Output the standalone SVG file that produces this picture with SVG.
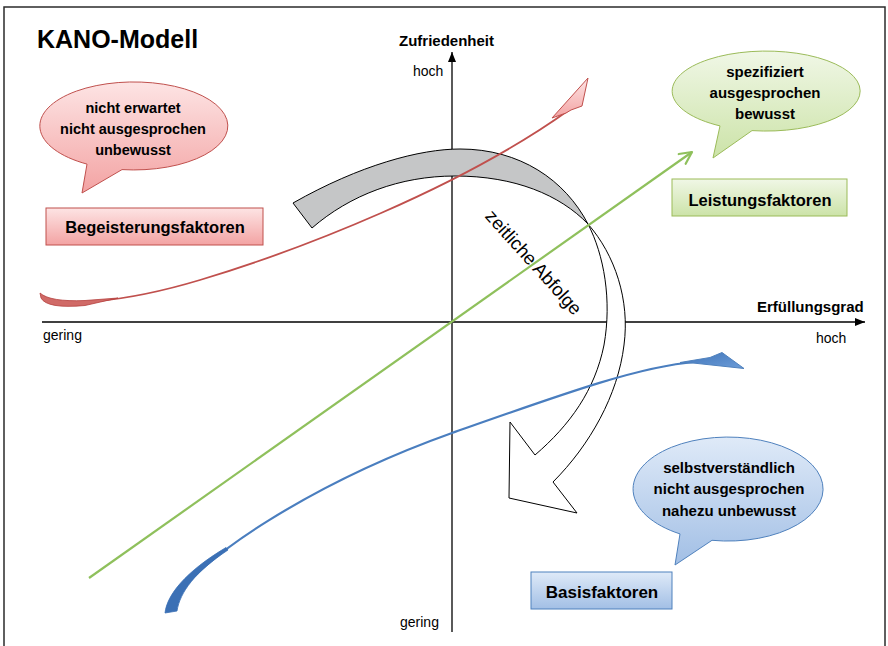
<svg xmlns="http://www.w3.org/2000/svg" width="888" height="646" viewBox="0 0 888 646">
<defs>
<style>
.lbl{font-family:"Liberation Sans",Arial,sans-serif;fill:#000}
.b{font-weight:bold}
.bub{font-family:"Liberation Sans",Arial,sans-serif;font-weight:bold;text-anchor:middle;fill:#000}
.ax{stroke:#000;stroke-width:1.3;fill:none}
</style>
<linearGradient id="gR" x1="0" y1="0" x2="0" y2="1"><stop offset="0" stop-color="#fde4e4"/><stop offset="1" stop-color="#f3a3a3"/></linearGradient>
<linearGradient id="gG" x1="0" y1="0" x2="0" y2="1"><stop offset="0" stop-color="#f0f7e6"/><stop offset="1" stop-color="#cce3a8"/></linearGradient>
<linearGradient id="gB" x1="0" y1="0" x2="0" y2="1"><stop offset="0" stop-color="#dfeaf8"/><stop offset="1" stop-color="#a2bfe5"/></linearGradient>
<linearGradient id="gBA" x1="0" y1="0" x2="1" y2="1"><stop offset="0" stop-color="#3f74b8"/><stop offset="1" stop-color="#6c9cd8"/></linearGradient>
<marker id="ax" markerWidth="10" markerHeight="8" refX="10" refY="4" orient="auto" markerUnits="userSpaceOnUse"><path d="M0,0 L10,4 L0,8 Z" fill="#000"/></marker>
<marker id="ga" markerWidth="16" markerHeight="16" refX="14" refY="8" orient="auto" markerUnits="userSpaceOnUse"><path d="M2,2 L14,8 L2,14" fill="none" stroke="#8fc05c" stroke-width="2.2" stroke-linecap="round" stroke-linejoin="round"/></marker>
</defs>
<rect x="0" y="0" width="888" height="646" fill="#fff"/>
<rect x="4" y="7" width="881" height="680" fill="none" stroke="#2b2b2b" stroke-width="1.5"/>
<text class="lbl b" x="37" y="48" font-size="25">KANO-Modell</text>
<g id="axes">
<line class="ax" x1="452" y1="632" x2="452" y2="52" marker-end="url(#ax)"/>
<line class="ax" x1="42" y1="322" x2="865" y2="322" marker-end="url(#ax)"/>
<text class="lbl b" x="399" y="46" font-size="15">Zufriedenheit</text>
<text class="lbl" x="413" y="76" font-size="14">hoch</text>
<text class="lbl" x="400" y="627" font-size="14">gering</text>
<text class="lbl b" x="757" y="312" font-size="15">Erfüllungsgrad</text>
<text class="lbl" x="816" y="343" font-size="14">hoch</text>
<text class="lbl" x="43" y="340" font-size="14">gering</text>
</g>
<g id="zeitliche-abfolge">
<path d="M 293 203 C 360 165 420 149 460 149 C 520 149 565 180 588 224 C 560 195 515 176 455 176 C 400 176 350 195 312 228 Z" fill="#c5c6c7" stroke="#000" stroke-width="1"/>
<path d="M 588 224 C 615 255 630 300 624 345 C 618 395 590 445 553 482 L 577 513 L 509 498 L 510 422 L 535 455 C 570 425 595 390 604 345 C 612 300 604 255 588 224 Z" fill="#fff" stroke="#000" stroke-width="1"/>
<text class="lbl" x="529" y="266.5" font-size="18.5" text-anchor="middle" transform="rotate(48 529 266.5)">zeitliche Abfolge</text>
</g>
<g id="connectors">
<path d="M 89 578 L 692 152" fill="none" stroke="#8fc05c" stroke-width="2.2" marker-end="url(#ga)"/>
<path d="M 44 297 C 55 307 120 304 200 280 C 300 250 460 188 569 110" fill="none" stroke="#c0504d" stroke-width="1.8"/>
<path d="M 40 293 Q 50 302 85 300.5 L 118 298 L 85 305.5 Q 47 309 41 298 Z" fill="#d06a67" stroke="#b5403d" stroke-width="0.8"/>
<polygon points="588,78 582,106 571,110 566,113 552,118" fill="url(#gR)" stroke="#c0504d" stroke-width="1"/>
<path d="M 171 608 C 190 560 320 480 452 433 C 560 395 640 366 695 362" fill="none" stroke="#4a7ebf" stroke-width="2.2"/>
<path d="M 165 613 C 167 595 185 572 226 547.5 L 228 550 C 195 572 180 592 177 611 Z" fill="#3b70b5" stroke="#3b70b5" stroke-width="0.8"/>
<polygon points="693,363 680,362.5 710,357.5 722,352.5 744,368.5" fill="url(#gBA)" stroke="#4f81bd" stroke-width="1"/>
</g>
<g id="bubble-begeisterung">
<path d="M 122 169.6 A 94 44 0 1 0 87 164.1 L 82 193 Z" fill="url(#gR)" stroke="#c0504d" stroke-width="1"/>
<text class="bub" x="133" y="113" font-size="14.5">nicht erwartet</text>
<text class="bub" x="133" y="134" font-size="14.5">nicht ausgesprochen</text>
<text class="bub" x="133" y="155" font-size="14.5">unbewusst</text>
</g>
<g id="box-begeisterung">
<rect x="46" y="208" width="217" height="37" fill="url(#gR)" stroke="#c0504d" stroke-width="1"/>
<text class="bub" x="155" y="233" font-size="16.5">Begeisterungsfaktoren</text>
</g>
<g id="bubble-leistung">
<path d="M 752 130.6 A 94 40 0 1 0 720 125.9 L 713 158 Z" fill="url(#gG)" stroke="#9bbb59" stroke-width="1"/>
<text class="bub" x="765" y="77" font-size="15">spezifiziert</text>
<text class="bub" x="765" y="98" font-size="15">ausgesprochen</text>
<text class="bub" x="765" y="119" font-size="15">bewusst</text>
</g>
<g id="box-leistung">
<rect x="672" y="179" width="175" height="37" fill="url(#gG)" stroke="#9bbb59" stroke-width="1"/>
<text class="bub" x="760" y="206" font-size="16.5">Leistungsfaktoren</text>
</g>
<g id="bubble-basis">
<path d="M 712 540.3 A 95 52 0 1 0 680 533.9 L 675 565 Z" fill="url(#gB)" stroke="#4f81bd" stroke-width="1"/>
<text class="bub" x="729" y="473" font-size="15">selbstverständlich</text>
<text class="bub" x="729" y="494" font-size="15">nicht ausgesprochen</text>
<text class="bub" x="729" y="516" font-size="15">nahezu unbewusst</text>
</g>
<g id="box-basis">
<rect x="531" y="572" width="141" height="37" fill="url(#gB)" stroke="#4f81bd" stroke-width="1"/>
<text class="bub" x="602" y="598" font-size="17">Basisfaktoren</text>
</g>
</svg>
